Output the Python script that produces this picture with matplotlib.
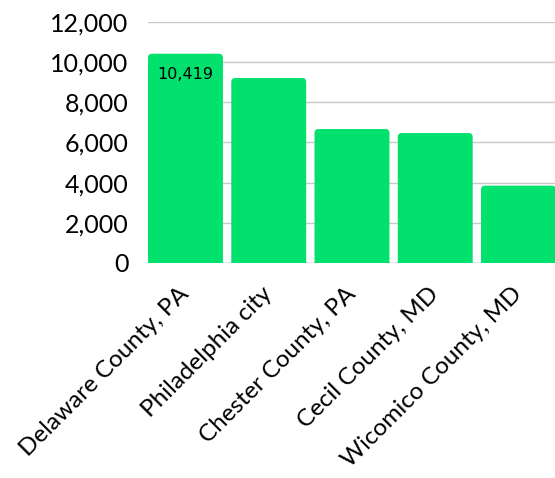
import matplotlib.pyplot as plt
from matplotlib.patches import FancyBboxPatch
from matplotlib.ticker import FuncFormatter

counties = ["Delaware County, PA", "Philadelphia city", "Chester County, PA",
            "Cecil County, MD", "Wicomico County, MD"]
values = [10419, 9210, 6670, 6470, 3850]
labelled = [10419]  # only the first bar carries a value label

green = "#02E16E"

plt.rcParams['font.family'] = ['Lato', 'DejaVu Sans']

fig = plt.figure(figsize=(5.55, 4.78), dpi=100)
ax = fig.add_axes([0.2667, 0.4498, 0.735, 0.5042])

w = 0.9
bars = ax.bar(range(len(values)), values, width=w, color=green)

# swap plain bars for ones with rounded top corners
x_per_px = 4.9 / (0.735 * 555)
y_per_px = 12000 / (0.5042 * 478)
for b in bars:
    b.set_visible(False)
    p = FancyBboxPatch((b.get_x(), -400), b.get_width(), b.get_height() + 400,
                       boxstyle="round,pad=0,rounding_size=%f" % (4 * x_per_px),
                       mutation_aspect=y_per_px / x_per_px,
                       fc=green, ec="none", zorder=2)
    ax.add_patch(p)

for i, v in enumerate(values):
    if v in labelled:
        ax.text(i, v - 21 * y_per_px, f"{v:,}", ha="center", va="center",
                fontsize=11.5, family=['DejaVu Sans'], zorder=3)

ax.set_xlim(-w / 2, len(values) - 1 + w / 2)
ax.set_ylim(0, 12000)
ax.set_yticks(range(0, 12001, 2000))
ax.yaxis.set_major_formatter(FuncFormatter(lambda v, p: f"{int(v):,}"))
ax.set_xticks(range(len(values)))
ax.set_xticklabels(counties, rotation=45, ha="right", va="center",
                   rotation_mode="anchor")
for t in ax.get_xticklabels():
    t.set_x(t.get_position()[0])

ax.tick_params(axis="y", length=0, pad=14, labelsize=18)
ax.tick_params(axis="x", length=0, pad=20, labelsize=17.5)
ax.grid(axis="y", color="#c8c8c8", lw=1, zorder=0)
ax.set_axisbelow(True)
for s in ax.spines.values():
    s.set_visible(False)
ax.axhline(0, color="#aaaaaa", lw=1, zorder=1)

fig.savefig("out.png", dpi=100)
